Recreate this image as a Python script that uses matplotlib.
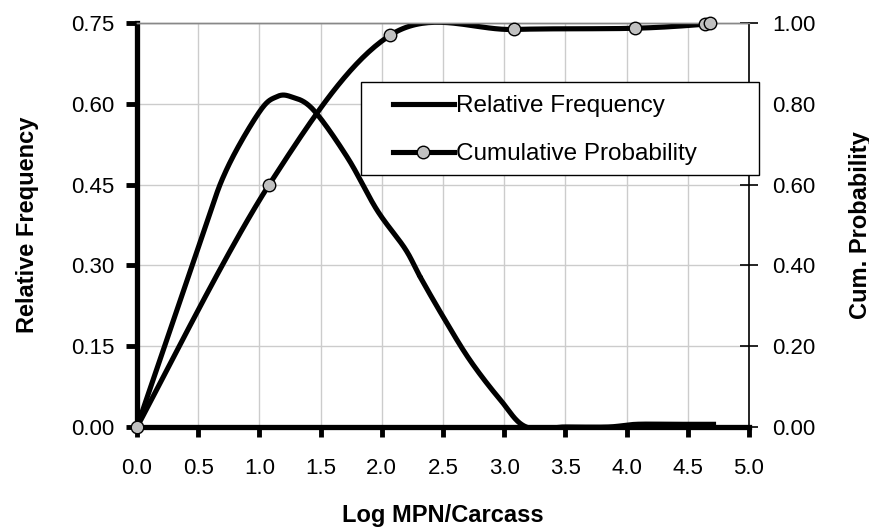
import numpy as np
import matplotlib.pyplot as plt
from matplotlib.lines import Line2D
from matplotlib.patches import Rectangle

plt.rcParams['font.family'] = ['Liberation Sans', 'DejaVu Sans']

# relative frequency
rel_x = [0.0, 0.53, 0.73, 1.0, 1.14, 1.26, 1.44, 1.72, 1.96, 2.19, 2.31, 2.5,
         2.72, 2.97, 3.18, 3.5, 3.85, 4.08, 4.4, 4.71]
rel_y = [0.0, 0.353, 0.477, 0.585, 0.613, 0.613, 0.589, 0.50, 0.403, 0.331,
         0.28, 0.205, 0.124, 0.05, 0.0, 0.0, 0.0, 0.005, 0.005, 0.005]

# cumulative probability points
cum_x = [0.0, 1.08, 2.07, 3.08, 4.07, 4.64, 4.68]
cum_y = [0.0, 0.60, 0.97, 0.984, 0.987, 0.997, 1.0]

xticks = np.arange(0, 5.01, 0.5)
left_ticks = [0.0, 0.15, 0.30, 0.45, 0.60, 0.75]
right_ticks = [0.0, 0.20, 0.40, 0.60, 0.80, 1.00]


def smooth(xs, ys, n=40):
    # excel-ish smoothed line (catmull-rom through the points)
    p = np.column_stack([xs, ys]).astype(float)
    p = np.vstack([p[0], p, p[-1]])
    out = []
    t = np.linspace(0, 1, n)[:, None]
    for i in range(1, len(p) - 2):
        p0, p1, p2, p3 = p[i - 1], p[i], p[i + 1], p[i + 2]
        seg = 0.5 * (2 * p1 + (-p0 + p2) * t
                     + (2 * p0 - 5 * p1 + 4 * p2 - p3) * t ** 2
                     + (-p0 + 3 * p1 - 3 * p2 + p3) * t ** 3)
        out.append(seg)
    return np.vstack(out)


fig = plt.figure(figsize=(8.7, 5.29), dpi=100)
ax = fig.add_axes([137 / 870, 1 - 427 / 529, (749 - 137) / 870, (427 - 23) / 529])
ax2 = ax.twinx()

ax.set_xlim(0, 5)
ax.set_ylim(0, 0.75)
ax2.set_ylim(0, 1.0)

ax.set_xticks(xticks)
ax.set_xticklabels(['%.1f' % v for v in xticks])
ax.set_yticks(left_ticks)
ax.set_yticklabels(['%.2f' % v for v in left_ticks])
ax2.set_yticks(right_ticks)
ax2.set_yticklabels(['%.2f' % v for v in right_ticks])

ax.grid(True, color='#cccccc', lw=1)
ax.set_axisbelow(True)

for a in (ax, ax2):
    a.spines['top'].set_color('#888888')
    a.spines['top'].set_linewidth(1)
ax.spines['left'].set_linewidth(3.8)
ax.spines['bottom'].set_linewidth(3.8)
ax.spines['right'].set_visible(False)
ax2.spines['left'].set_visible(False)
ax2.spines['bottom'].set_visible(False)
ax2.spines['right'].set_linewidth(1.2)

ax.tick_params(axis='y', direction='out', length=8, width=3.5, pad=8, labelsize=16)
ax.tick_params(axis='x', direction='out', length=7, width=3.5, pad=15, labelsize=16)
ax2.tick_params(axis='y', direction='inout', length=13, width=1.2, pad=10, labelsize=16)

r = smooth(rel_x, rel_y)
ax.plot(r[:, 0], r[:, 1], color='black', lw=3.7, solid_joinstyle='round')

c = smooth(cum_x, cum_y)
ax2.plot(c[:, 0], c[:, 1], color='black', lw=3.7, solid_joinstyle='round')
ax2.plot(cum_x, cum_y, ls='none', marker='o', ms=9, mfc='#c0c0c0', mec='black',
         mew=1, clip_on=False, zorder=5)

ax.set_xlabel('Log MPN/Carcass', fontsize=17, fontweight='bold', labelpad=18)
ax.set_ylabel('Relative Frequency', fontsize=17, fontweight='bold', labelpad=23)
ax2.set_ylabel('Cum. Probability', fontsize=17, fontweight='bold', labelpad=24)

# legend
fig.patches.append(Rectangle((361 / 870, 1 - 175 / 529), (759 - 361) / 870, (175 - 82) / 529,
                             transform=fig.transFigure, fill=True, fc='white',
                             ec='black', lw=1, zorder=10))
handles = [Line2D([], [], color='black', lw=3.7),
           Line2D([], [], color='black', lw=3.7, marker='o', ms=9,
                  mfc='#c0c0c0', mec='black', mew=1)]
leg = fig.legend(handles, ['Relative Frequency', 'Cumulative Probability'],
                 loc='upper left', bbox_to_anchor=(393 / 870, 1 - 95 / 529),
                 frameon=False, fontsize=17.5, handlelength=2.5, handletextpad=0.1,
                 borderpad=0, borderaxespad=0, labelspacing=1.08)
leg.set_zorder(11)

fig.savefig('out.png', dpi=100)
